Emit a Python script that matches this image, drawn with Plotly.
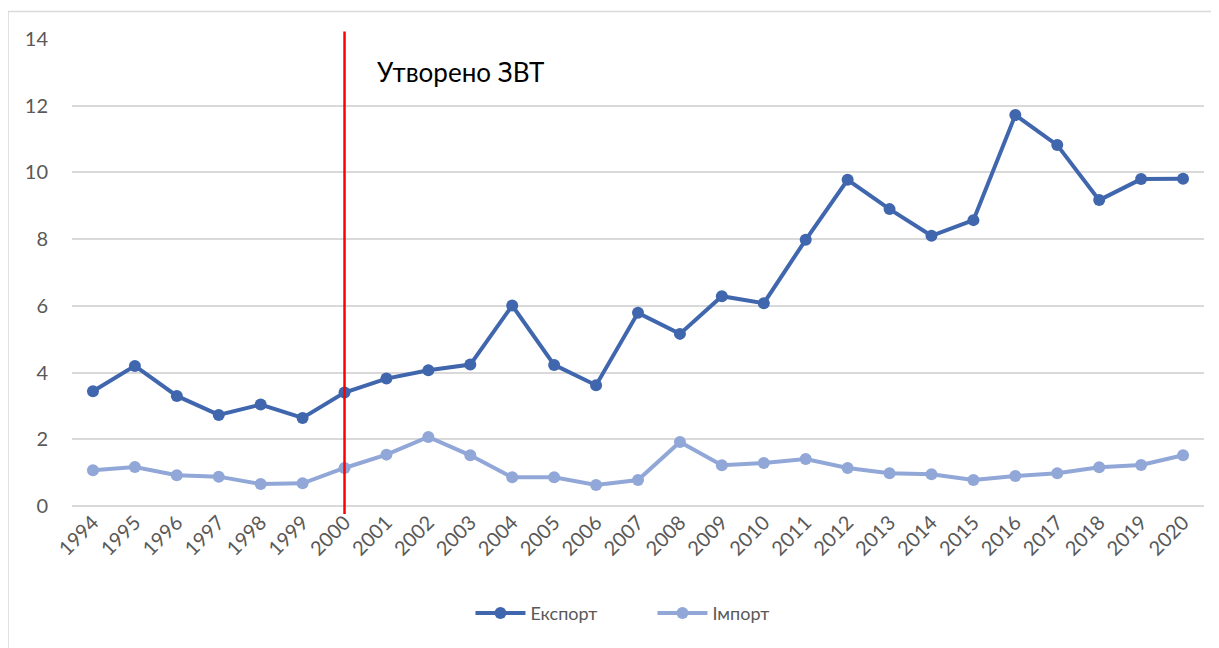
import plotly.graph_objects as go

years = [str(y) for y in range(1994, 2021)]
export_vals = [3.44, 4.20, 3.30, 2.73, 3.04, 2.64, 3.40, 3.82, 4.07, 4.24, 6.01, 4.23, 3.62,
               5.79, 5.16, 6.29, 6.08, 7.98, 9.78, 8.90, 8.10, 8.57, 11.72, 10.82, 9.17, 9.80, 9.81]
import_vals = [1.07, 1.17, 0.92, 0.88, 0.66, 0.68, 1.14, 1.54, 2.07, 1.52, 0.86, 0.86, 0.63,
               0.78, 1.92, 1.22, 1.29, 1.41, 1.14, 0.98, 0.95, 0.78, 0.90, 0.98, 1.16, 1.23, 1.52]
y_ticks = [0, 2, 4, 6, 8, 10, 12, 14]
marker_year = "2000"
annotation_text = "Утворено ЗВТ"

FONT = "Lato, 'Open Sans', sans-serif"
mx = years.index(marker_year)

fig = go.Figure()
fig.add_trace(go.Scatter(x=years, y=export_vals, name="Експорт", mode="lines+markers",
                         line=dict(color="#4066AE", width=4),
                         marker=dict(color="#4066AE", size=12)))
fig.add_trace(go.Scatter(x=years, y=import_vals, name="Імпорт", mode="lines+markers",
                         line=dict(color="#91A7D7", width=4),
                         marker=dict(color="#91A7D7", size=12)))

fig.add_shape(type="line", xref="x", yref="paper", x0=mx, x1=mx,
              y0=-0.017, y1=1.016, line=dict(color="#FF0000", width=2.5))
fig.add_shape(type="rect", xref="paper", yref="paper", x0=-0.0565, x1=1.007,
              y0=-0.35, y1=1.059, line=dict(color="#D9D9D9", width=1.5), layer="below")

fig.add_annotation(x=mx, y=13.0, xref="x", yref="y", text=annotation_text,
                   showarrow=False, xanchor="left", xshift=30,
                   font=dict(family=FONT, size=26, color="#000000"))

fig.update_layout(
    width=1219, height=648,
    margin=dict(l=64, r=23, t=31, b=150, autoexpand=False),
    paper_bgcolor="white", plot_bgcolor="white",
    font=dict(family=FONT, color="#595959"),
    showlegend=True,
    legend=dict(orientation="h", x=0.352, xanchor="left", y=-0.19, yanchor="top",
                font=dict(family=FONT, size=18, color="#595959"),
                entrywidth=117, entrywidthmode="pixels", itemwidth=50),
    xaxis=dict(type="category", range=[-0.5, 26.5], tickangle=-45, showgrid=False,
               showline=False, ticks="", automargin=False,
               tickfont=dict(family=FONT, size=20, color="#595959")),
    yaxis=dict(range=[0, 14], tickvals=y_ticks, showgrid=True, gridcolor="#D9D9D9",
               gridwidth=1.5, zeroline=True, zerolinecolor="#D9D9D9", zerolinewidth=1.5,
               showline=False, ticks="outside", tickcolor="white", ticklen=19, automargin=False,
               tickfont=dict(family=FONT, size=20, color="#595959")),
)

fig.write_html("out.html")
